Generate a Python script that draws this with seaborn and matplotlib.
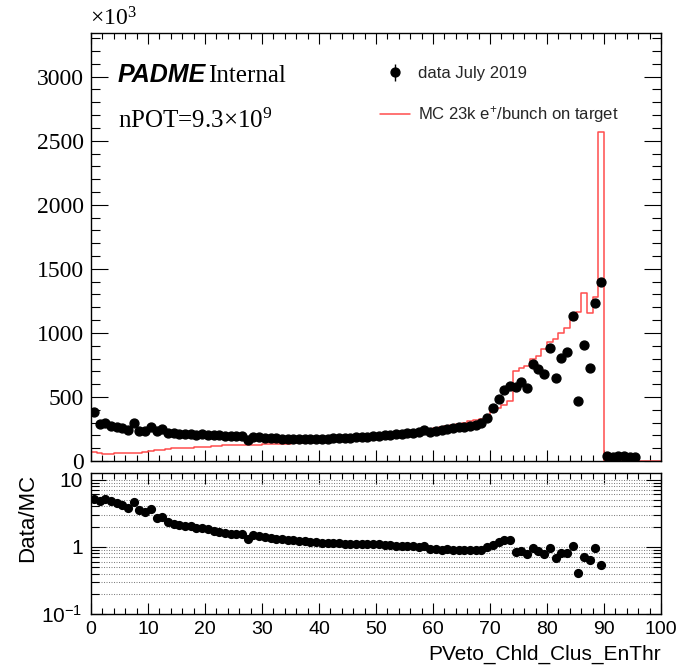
import numpy as np
import pandas as pd
import matplotlib
matplotlib.use("Agg")
import matplotlib.pyplot as plt
import seaborn as sns
from matplotlib.ticker import MultipleLocator, FixedLocator, FormatStrFormatter, NullFormatter
from matplotlib.lines import Line2D

# ---------------- data (bin contents in units of 10^3) ----------------
bin_edges = list(range(0, 101))

data_counts = [
    384, 287, 300, 274, 269, 258, 243, 295, 235, 232,
    269, 232, 248, 222, 215, 212, 210, 212, 205, 208,
    203, 200, 200, 198, 196, 195, 193, 165, 190, 186,
    182, 178, 176, 174, 172, 170, 168, 170, 170, 172,
    172, 174, 176, 180, 178, 182, 184, 186, 188, 192,
    198, 200, 205, 208, 212, 217, 222, 228, 240, 228,
    238, 242, 250, 255, 262, 268, 275, 282, 295, 337,
    415, 485, 556, 587, 580, 619, 572, 760, 720, 681,
    885, 650, 806, 853, 1128, 470, 908, 728, 1237, 1394,
    38, 35, 36, 38, 34, 30, 0, 0, 0, 0,
]

mc_counts = [
    74, 60, 58, 58, 60, 62, 64, 64, 66, 70,
    75, 88, 89, 94, 100, 102, 103, 105, 108, 110,
    112, 116, 120, 122, 126, 125, 124, 125, 126, 128,
    130, 132, 133, 134, 135, 137, 139, 141, 144, 147,
    150, 152, 154, 157, 160, 163, 166, 169, 172, 176,
    182, 188, 194, 200, 206, 213, 220, 227, 234, 246,
    258, 266, 274, 282, 290, 300, 310, 320, 330, 345,
    385, 415, 440, 470, 705, 723, 741, 800, 822, 877,
    926, 954, 1000, 1040, 1100, 1160, 1310, 1155, 1280, 2570,
    0, 0, 0, 0, 0, 0, 0, 0, 0, 0,
]

data_label = "data July 2019"
mc_label = r"MC 23k $\mathsf{e^{+}}$/bunch on target"
x_title = "PVeto_Chld_Clus_EnThr"
ratio_title = "Data/MC"
ratio_ticks = [0.1, 1, 10]
ratio_ticklabels = [r"$\mathsf{10^{-1}}$", "1", "10"]

# ---------------- style ----------------
sns.set_theme(style="ticks")
plt.rcParams["font.family"] = ["Liberation Sans", "DejaVu Sans"]
plt.rcParams["mathtext.fontset"] = "custom"
plt.rcParams["mathtext.rm"] = "Liberation Serif"
plt.rcParams["mathtext.sf"] = "Liberation Sans"
plt.rcParams["mathtext.it"] = "Liberation Serif:italic"
plt.rcParams["mathtext.bf"] = "Liberation Serif:bold"

RED = "#ff4d4d"
W, H = 683, 669

centers = [b + 0.5 for b in bin_edges[:-1]]
df = pd.DataFrame({"x": centers, "data": data_counts, "mc": mc_counts})
df["err"] = np.sqrt(df["data"] * 1000.0) / 1000.0
df_pts = df[df["data"] > 0]
df_ratio = df[(df["data"] > 0) & (df["mc"] > 0)].copy()
df_ratio["ratio"] = df_ratio["data"] / df_ratio["mc"]

fig = plt.figure(figsize=(W / 100, H / 100), dpi=100)
ax = fig.add_axes([91 / W, 1 - 461 / H, 570 / W, 428 / H])
rax = fig.add_axes([91 / W, 1 - 614 / H, 570 / W, 141 / H])

# ---------------- main panel ----------------
sns.histplot(x=df["x"], weights=df["mc"], bins=bin_edges, element="step",
             fill=False, color=RED, linewidth=1.1, ax=ax)
eb = ax.errorbar(df_pts["x"], df_pts["data"], yerr=df_pts["err"], fmt="o",
                 color="black", ms=6.4, elinewidth=1, capsize=0, zorder=3)

ax.set_xlim(0, 100)
ax.set_ylim(0, 1.3 * max(mc_counts))
ax.set_xlabel("")
ax.set_ylabel("")
ax.xaxis.set_major_locator(MultipleLocator(10))
ax.xaxis.set_minor_locator(MultipleLocator(2))
ax.yaxis.set_major_locator(MultipleLocator(500))
ax.yaxis.set_minor_locator(MultipleLocator(100))
ax.yaxis.set_major_formatter(FormatStrFormatter("%d"))
ax.tick_params(which="both", direction="in", top=True, right=True,
               labelbottom=False, color="black", width=0.8)
ax.tick_params(axis="y", which="major", length=12, pad=5, labelsize=17,
               labelfontfamily="Liberation Serif", labelcolor="black")
ax.tick_params(axis="y", which="minor", length=6.5)
ax.tick_params(axis="x", which="major", length=8)
ax.tick_params(axis="x", which="minor", length=4.3)
for s in ax.spines.values():
    s.set_color("black")
    s.set_linewidth(1.0)

fig.text(90 / W, 1 - 26 / H, "×10$^{3}$", fontsize=17,
         family="Liberation Serif", color="black", va="baseline")
fig.text(118 / W, 1 - 82 / H, "PADME", fontsize=18, family="Liberation Sans",
         weight="bold", style="italic", color="black", va="baseline")
fig.text(208 / W, 1 - 82 / H, "Internal", fontsize=18,
         family="Liberation Serif", color="black", va="baseline")
fig.text(118 / W, 1 - 128 / H, "nPOT=9.3×10$^{9}$", fontsize=18,
         family="Liberation Serif", color="black", va="baseline")

mc_handle = Line2D([], [], color=RED, lw=1.1)
ax.legend([eb, mc_handle], [data_label, mc_label], loc="upper left",
          bbox_to_anchor=(380 / W, 1 - 66 / H), bbox_transform=fig.transFigure,
          frameon=False, fontsize=12, handlelength=1.8, handletextpad=0.5,
          labelspacing=1.4, borderpad=0, borderaxespad=0)

# ---------------- ratio panel ----------------
sns.scatterplot(data=df_ratio, x="x", y="ratio", color="black", s=44,
                linewidth=0, ax=rax, zorder=3)
rax.set_yscale("log")
rax.set_xlim(0, 100)
rax.set_ylim(0.1, 12.5)
rax.yaxis.set_major_locator(FixedLocator(ratio_ticks))
rax.set_yticklabels(ratio_ticklabels)
minor = [m * d for d in (0.1, 1) for m in range(2, 10)]
rax.yaxis.set_minor_locator(FixedLocator(minor))
rax.yaxis.set_minor_formatter(NullFormatter())
rax.xaxis.set_major_locator(MultipleLocator(10))
rax.xaxis.set_minor_locator(MultipleLocator(2))
rax.grid(axis="y", which="both", linestyle=(0, (1, 1.4)), color="#808080",
         linewidth=0.75, zorder=0)
rax.tick_params(which="both", direction="in", top=True, right=True,
                color="black", width=0.8)
rax.tick_params(axis="y", which="major", length=11, pad=6, labelsize=15,
                labelcolor="black")
rax.tick_params(axis="y", which="minor", length=5.5)
rax.tick_params(axis="x", which="major", length=8, pad=5, labelsize=14,
                labelcolor="black")
rax.tick_params(axis="x", which="minor", length=4)
for s in rax.spines.values():
    s.set_color("black")
    s.set_linewidth(1.0)

rax.set_xlabel(x_title, fontsize=15, color="black", loc="right")
rax.xaxis.set_label_coords(1.0, -0.22)
rax.xaxis.label.set_va("top")
rax.set_ylabel(ratio_title, fontsize=16, color="black")
rax.yaxis.set_label_coords(-0.112, 0.68)
rax.yaxis.label.set_va("center")

fig.savefig("out.png", dpi=100, facecolor="white")
